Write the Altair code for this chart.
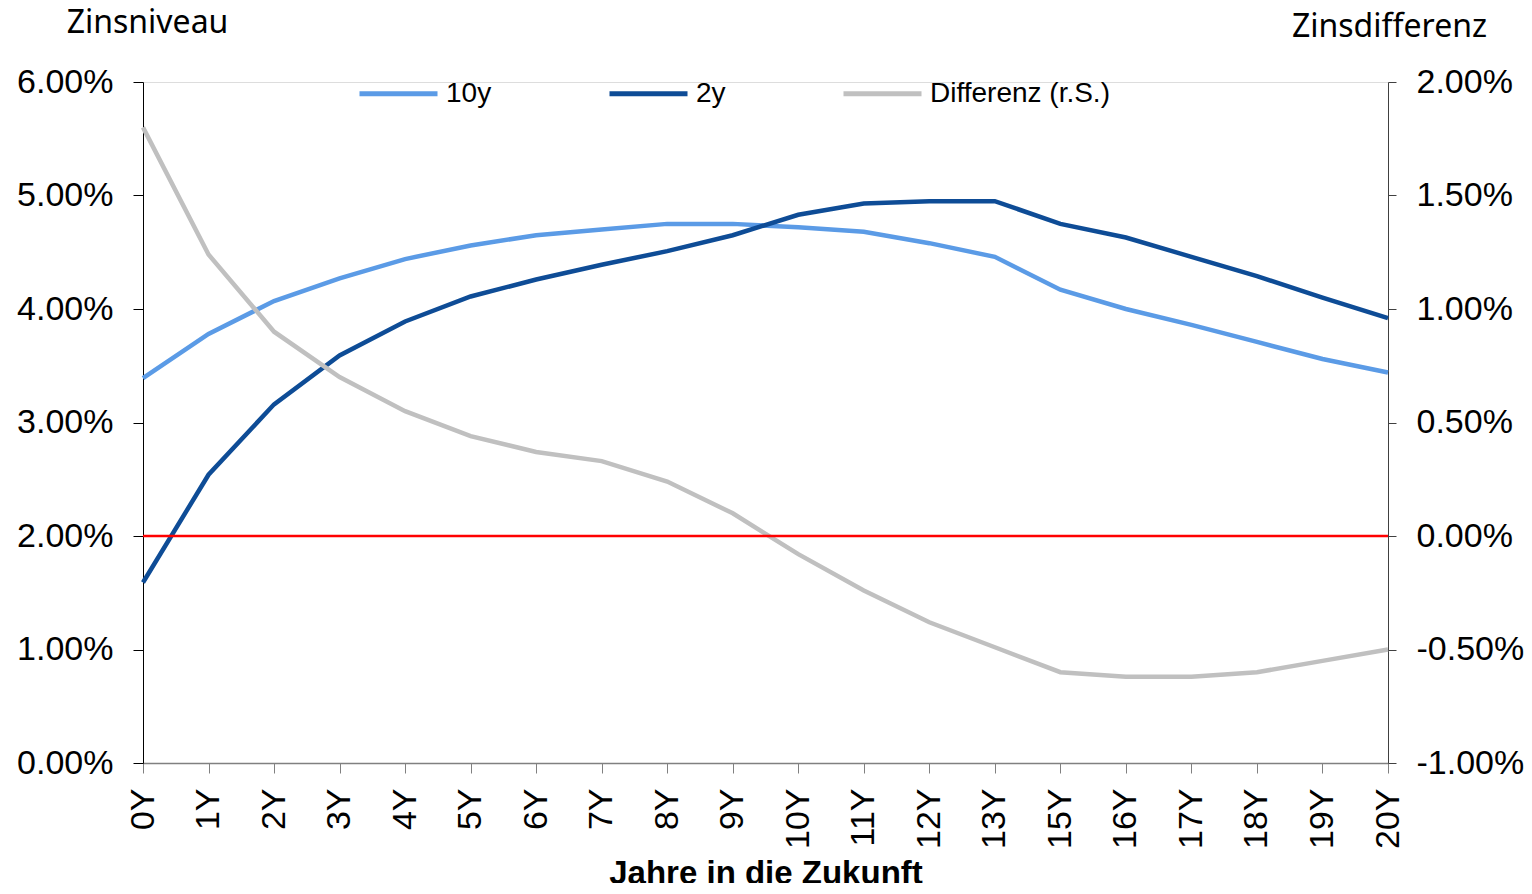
import altair as alt
import pandas as pd

cats = ["0Y", "1Y", "2Y", "3Y", "4Y", "5Y", "6Y", "7Y", "8Y", "9Y", "10Y",
        "11Y", "12Y", "13Y", "15Y", "16Y", "17Y", "18Y", "19Y", "20Y"]
s10 = [3.39, 3.78, 4.07, 4.27, 4.44, 4.56, 4.65, 4.70, 4.75, 4.75, 4.72,
       4.68, 4.58, 4.46, 4.17, 4.00, 3.86, 3.71, 3.56, 3.44]
s2 = [1.59, 2.54, 3.16, 3.59, 3.89, 4.11, 4.26, 4.39, 4.51, 4.65, 4.83,
      4.93, 4.95, 4.95, 4.75, 4.63, 4.46, 4.29, 4.10, 3.92]
sdiff = [1.80, 1.24, 0.90, 0.70, 0.55, 0.44, 0.37, 0.33, 0.24, 0.10, -0.08,
         -0.24, -0.38, -0.49, -0.60, -0.62, -0.62, -0.60, -0.55, -0.50]
series_names = ["10y", "2y", "Differenz (r.S.)"]
colors = ["#5B9BE6", "#0E4C96", "#C0C0C0"]
left_ticks = [0, 1, 2, 3, 4, 5, 6]
right_ticks = [-1.0, -0.5, 0.0, 0.5, 1.0, 1.5, 2.0]
ref_level = [2.0]

rows = []
for name, vals in zip(series_names, [s10, s2, sdiff]):
    for c, v in zip(cats, vals):
        rows.append({"Jahr": c, "Serie": name, "Wert": v})
df = pd.DataFrame(rows)

TICK_FONT = "Liberation Sans"
TITLE_FONT = "Noto Sans"
LABEL_EXPR = "replace(format(datum.value, '.2f'), '\u2212', '-') + '%'"

xenc = alt.X(
    "Jahr:N", sort=cats,
    scale=alt.Scale(type="point", padding=0),
    axis=alt.Axis(
        title="Jahre in die Zukunft", labelAngle=-90,
        labelFont=TICK_FONT, labelFontSize=34, labelColor="#000000",
        labelPadding=15, tickSize=10, tickColor="#808080", domainColor="#808080",
        domainWidth=1.5, titleFont="Liberation Sans", titleFontSize=33,
        titleFontWeight="bold", titleColor="#000000", titleY=110,
        titleBaseline="middle", grid=False,
    ),
)

legend = alt.Legend(
    title=None, orient="none", legendX=214, legendY=-30, direction="horizontal",
    columns=3, symbolType="stroke", symbolSize=6084, symbolStrokeWidth=5,
    labelFont="Liberation Sans", labelFontSize=28, labelColor="#000000",
    labelOffset=6, columnPadding=107, labelLimit=400,
)
color = alt.Color("Serie:N", scale=alt.Scale(domain=series_names, range=colors), legend=legend)

left = alt.Chart(df).transform_filter(
    alt.FieldOneOfPredicate(field="Serie", oneOf=["10y", "2y"])
).mark_line(strokeWidth=4.5).encode(
    x=xenc,
    y=alt.Y("Wert:Q", scale=alt.Scale(domain=[0, 6], nice=False, zero=False),
            axis=alt.Axis(
                orient="left", values=left_ticks,
                labelExpr=LABEL_EXPR,
                labelFont=TICK_FONT, labelFontSize=34, labelColor="#000000",
                labelPadding=20, tickSize=10, tickColor="#000000",
                domainColor="#000000", grid=False,
                title="Zinsniveau", titleAngle=0, titleX=4, titleY=-60,
                titleAlign="center", titleBaseline="middle",
                titleFont=TITLE_FONT, titleFontSize=32, titleFontWeight="normal",
                titleColor="#000000",
            )),
    color=color,
)

right = alt.Chart(df).transform_filter(
    alt.FieldEqualPredicate(field="Serie", equal="Differenz (r.S.)")
).mark_line(strokeWidth=4.5).encode(
    x=xenc,
    y=alt.Y("Wert:Q", scale=alt.Scale(domain=[-1, 2], nice=False, zero=False),
            axis=alt.Axis(
                orient="right", values=right_ticks,
                labelExpr=LABEL_EXPR,
                labelFont=TICK_FONT, labelFontSize=34, labelColor="#000000",
                labelPadding=20, tickSize=8, tickColor="#404040",
                domainColor="#404040", grid=False,
                title="Zinsdifferenz", titleAngle=0, titleX=1, titleY=-56,
                titleAlign="center", titleBaseline="middle",
                titleFont=TITLE_FONT, titleFontSize=32, titleFontWeight="normal",
                titleColor="#000000",
            )),
    color=color,
)

rule = alt.Chart(pd.DataFrame({"ref": ref_level})).mark_rule(
    color="#FF0000", strokeWidth=2.5
).encode(
    y=alt.Y("ref:Q", scale=alt.Scale(domain=[0, 6], nice=False, zero=False), axis=None)
)

chart = alt.layer(left, right, rule).resolve_scale(y="independent").properties(
    width=1245, height=681,
    autosize=alt.AutoSizeParams(type="none"),
    padding={"left": 135, "top": 74, "right": 136, "bottom": 120},
).configure_view(stroke=None).configure(background="#ffffff")

chart.save("out.html", embed_options={"renderer": "svg", "actions": False})
